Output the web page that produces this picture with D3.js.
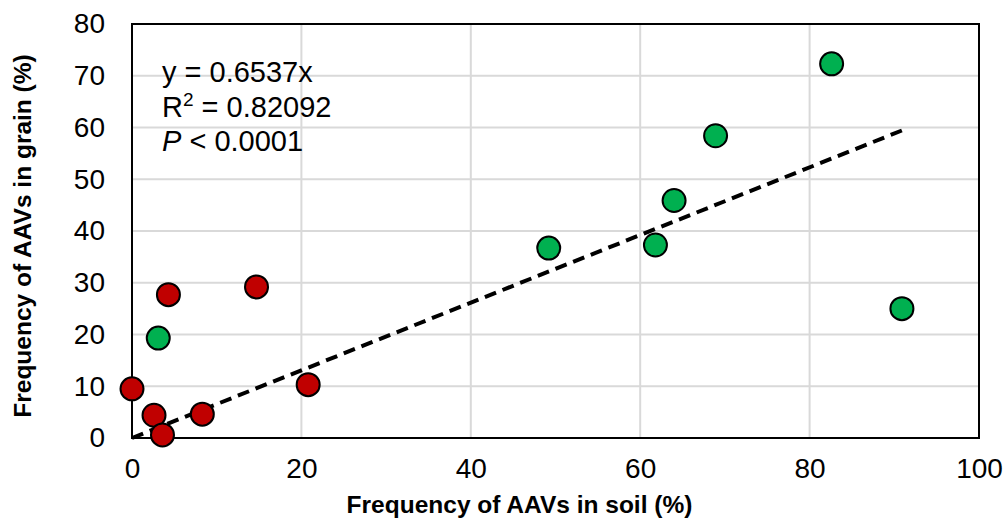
<!DOCTYPE html>
<html>
<head>
<meta charset="utf-8">
<script src="https://cdn.jsdelivr.net/npm/d3@7"></script>
<style>
  body { margin: 0; background: #fff; }
  svg text { font-family: "Liberation Sans", Arial, sans-serif; }
</style>
</head>
<body>
<script>
// data
let redSoil  = [0, 4.3, 14.7, 2.6, 3.6, 8.3, 20.8];
let redGrain = [9.5, 27.7, 29.2, 4.4, 0.6, 4.6, 10.3];
let greenSoil  = [3.1, 49.2, 61.8, 64.0, 68.9, 82.6, 90.9];
let greenGrain = [19.3, 36.7, 37.3, 45.9, 58.4, 72.3, 25.0];
let xTicks = [0, 20, 40, 60, 80, 100];
let yTicks = [0, 10, 20, 30, 40, 50, 60, 70, 80];
let slope = 0.6537;

let w = 1006;
let h = 520;
let padL = 132, padR = 979, padT = 24, padB = 438;

let svg = d3.select('body')
  .append('svg')
  .attr('width', w)
  .attr('height', h);

let xScale = d3.scaleLinear().domain([0, 100]).range([padL, padR]);
let yScale = d3.scaleLinear().domain([0, 80]).range([padB, padT]);

// grid
svg.append('g')
  .selectAll('line')
  .data(xTicks)
  .enter()
  .append('line')
  .attr('x1', d => xScale(d)).attr('x2', d => xScale(d))
  .attr('y1', padT).attr('y2', padB)
  .attr('stroke', '#d9d9d9').attr('stroke-width', 2);

svg.append('g')
  .selectAll('line')
  .data(yTicks)
  .enter()
  .append('line')
  .attr('x1', padL).attr('x2', padR)
  .attr('y1', d => yScale(d)).attr('y2', d => yScale(d))
  .attr('stroke', '#d9d9d9').attr('stroke-width', 2);

// plot border
svg.append('rect')
  .attr('x', padL).attr('y', padT)
  .attr('width', padR - padL).attr('height', padB - padT)
  .attr('fill', 'none').attr('stroke', '#000').attr('stroke-width', 2);

// axes (labels only)
let xAxis = d3.axisBottom(xScale).tickValues(xTicks).tickSize(0).tickPadding(20);
let gx = svg.append('g').attr('transform', 'translate(0,' + padB + ')').call(xAxis);
gx.select('.domain').remove();
gx.selectAll('text').style('font-size', '28px').attr('fill', '#000')
  .style('font-family', '"Liberation Sans", Arial, sans-serif');

let yAxis = d3.axisLeft(yScale).tickValues(yTicks).tickSize(0).tickPadding(27);
let gy = svg.append('g').attr('transform', 'translate(' + padL + ',0)').call(yAxis);
gy.select('.domain').remove();
gy.selectAll('text').style('font-size', '28px').attr('fill', '#000')
  .style('font-family', '"Liberation Sans", Arial, sans-serif');

// axis titles
svg.append('text')
  .attr('x', (padL + padR) / 2 - 36)
  .attr('y', 513)
  .attr('text-anchor', 'middle')
  .style('font-size', '24.5px').style('font-weight', 'bold')
  .text('Frequency of AAVs in soil (%)');

svg.append('text')
  .attr('transform', 'translate(31,' + 236 + ') rotate(-90)')
  .attr('text-anchor', 'middle')
  .style('font-size', '24.5px').style('font-weight', 'bold')
  .text('Frequency of AAVs in grain (%)');

// trend line through origin
let maxX = d3.max(greenSoil.concat(redSoil));
svg.append('line')
  .attr('x1', xScale(0)).attr('y1', yScale(0))
  .attr('x2', xScale(maxX)).attr('y2', yScale(slope * maxX))
  .attr('stroke', '#000').attr('stroke-width', 4)
  .attr('stroke-dasharray', '12,7');

// points
let drawPoints = (xs, ys, color) => {
  svg.append('g')
    .selectAll('circle')
    .data(xs)
    .enter()
    .append('circle')
    .attr('cx', d => xScale(d))
    .attr('cy', (d, i) => yScale(ys[i]))
    .attr('r', 11.5)
    .attr('fill', color)
    .attr('stroke', '#000')
    .attr('stroke-width', 2);
};
drawPoints(redSoil, redGrain, '#c00000');
drawPoints(greenSoil, greenGrain, '#00b050');

// equation text
let eq = svg.append('g').style('font-size', '29px');
eq.append('text').attr('x', 162).attr('y', 82).text('y = 0.6537x');
let r2 = eq.append('text').attr('x', 162).attr('y', 117);
r2.append('tspan').text('R');
r2.append('tspan').attr('dy', -11).style('font-size', '19px').text('2');
r2.append('tspan').attr('dy', 11).text(' = 0.82092');
let p = eq.append('text').attr('x', 162).attr('y', 151);
p.append('tspan').style('font-style', 'italic').text('P');
p.append('tspan').text(' < 0.0001');
</script>
</body>
</html>
